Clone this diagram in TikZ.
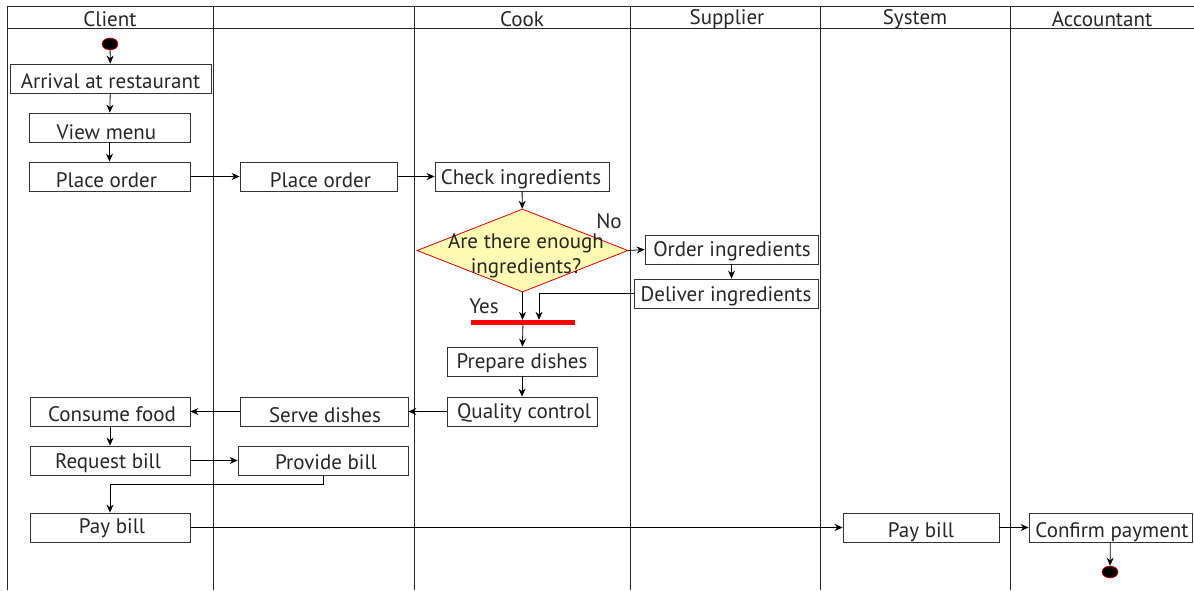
\documentclass[tikz,border=0pt]{standalone}
\usepackage{fontspec}
\setmainfont{PT Sans}
\usetikzlibrary{shapes.geometric,arrows.meta}
\begin{document}
\begin{tikzpicture}[x=1pt,y=-1pt,
  txt/.style={font=\fontsize{21}{25}\selectfont, text=black!85},
  box/.style={draw=black!80, line width=0.8pt, minimum height=29pt, inner sep=0pt, anchor=center},
  lane/.style={draw=black!85, line width=0.9pt},
  arr/.style={draw=black, line width=0.8pt, -{Stealth[length=8pt,width=7pt]}},
  dot/.style={ellipse, fill=black, draw=red, line width=0.6pt, minimum width=16pt, minimum height=12pt, inner sep=0pt},
  dec/.style={diamond, draw=red!85!black, fill=yellow!30, line width=0.8pt, minimum width=211pt, minimum height=83pt, inner sep=0pt}
]
\useasboundingbox (0,0) rectangle (1194,590);
% lanes
\draw[lane] (7,6) -- (1194,6);
\draw[lane] (7,28) -- (1194,28);
\foreach \x in {7,213,414,630,820,1010} \draw[lane] (\x,6) -- (\x,590);
\node[txt] (hClient) at (110,19.5) {Client};
\node[txt] (hCook) at (522,19.5) {Cook};
\node[txt] (hSupplier) at (727,19.5) {Supplier};
\node[txt] (hSystem) at (915,19.5) {System};
\node[txt] (hAcc) at (1102,19.5) {Accountant};
% nodes
\node[dot] (start) at (110,44) {};
\node[box, minimum width=201pt] (arrival) at (110.5,78.5) {};
\node[box, minimum width=161pt] (view) at (109.5,127.5) {};
\node[box, minimum width=161pt] (place1) at (109.5,176.5) {};
\node[box, minimum width=157pt] (place2) at (318.5,176.5) {};
\node[box, minimum width=174pt] (check) at (522,176.5) {};
\node[dec] (decision) at (522.5,250.5) {};
\node[box, minimum width=173pt] (order) at (731.5,249.5) {};
\node[box, minimum width=184pt] (deliver) at (726,293.5) {};
\node[fill=red, minimum width=104pt, minimum height=5pt, inner sep=0pt] (bar) at (523,322.5) {};
\node[box, minimum width=150pt] (prep) at (522,361.5) {};
\node[box, minimum width=150pt] (qc) at (522,411.5) {};
\node[box, minimum width=168pt] (serve) at (324,411.5) {};
\node[box, minimum width=160pt] (consume) at (110,411.5) {};
\node[box, minimum width=160pt] (request) at (110,460.5) {};
\node[box, minimum width=170pt] (provide) at (323,460.5) {};
\node[box, minimum width=160pt] (pay1) at (110,527.5) {};
\node[box, minimum width=156pt] (pay2) at (921,527.5) {};
\node[box, minimum width=163pt] (confirm) at (1110.5,527.5) {};
\node[dot] (end) at (1110,572) {};
% texts
\node[txt] (tArrival) at (110.5,81) {Arrival at restaurant};
\node[txt] (tView) at (106.5,132) {View menu};
\node[txt] (tPlace1) at (106.5,180) {Place order};
\node[txt] (tPlace2) at (320.5,180) {Place order};
\node[txt] (tCheck) at (521,179) {Check ingredients};
\node[txt, align=center] (dectext) at (526,256) {Are there enough\\ingredients?};
\node[txt] (no) at (609,221) {No};
\node[txt] (tOrder) at (732,251) {Order ingredients};
\node[txt] (tDeliver) at (726,296) {Deliver ingredients};
\node[txt] (yes) at (484,306) {Yes};
\node[txt] (tPrep) at (522,363) {Prepare dishes};
\node[txt] (tQc) at (524,413) {Quality control};
\node[txt] (tServe) at (325,415) {Serve dishes};
\node[txt] (tConsume) at (112,414) {Consume food};
\node[txt] (tRequest) at (108,463) {Request bill};
\node[txt] (tProvide) at (326,462) {Provide bill};
\node[txt] (tPay1) at (112,528) {Pay bill};
\node[txt] (tPay2) at (921,532) {Pay bill};
\node[txt] (tConfirm) at (1112,532) {Confirm payment};
% connectors
\draw[arr] (start) -- (arrival);
\draw[arr] (arrival) -- (view);
\draw[arr] (view) -- (place1);
\draw[arr] (place1) -- (place2);
\draw[arr] (place2) -- (check);
\draw[arr] (check) -- (decision);
\draw[arr] (decision.east) -- (order.west);
\draw[arr] (order.south) -- (order.south |- deliver.north);
\draw[arr] (decision.south) -- (decision.south |- bar.north);
\draw[arr] (deliver.west) -| ([xshift=16pt]bar.north);
\draw[arr] (bar) -- (prep);
\draw[arr] (prep) -- (qc);
\draw[arr] (qc) -- (serve);
\draw[arr] (serve) -- (consume);
\draw[arr] (consume) -- (request);
\draw[arr] (request) -- (provide);
\draw[arr] (provide.south) -- ++(0,9) -| (pay1.north);
\draw[arr] (pay1) -- (pay2);
\draw[arr] (pay2) -- (confirm);
\draw[arr] (confirm) -- (end);
\end{tikzpicture}
\end{document}
